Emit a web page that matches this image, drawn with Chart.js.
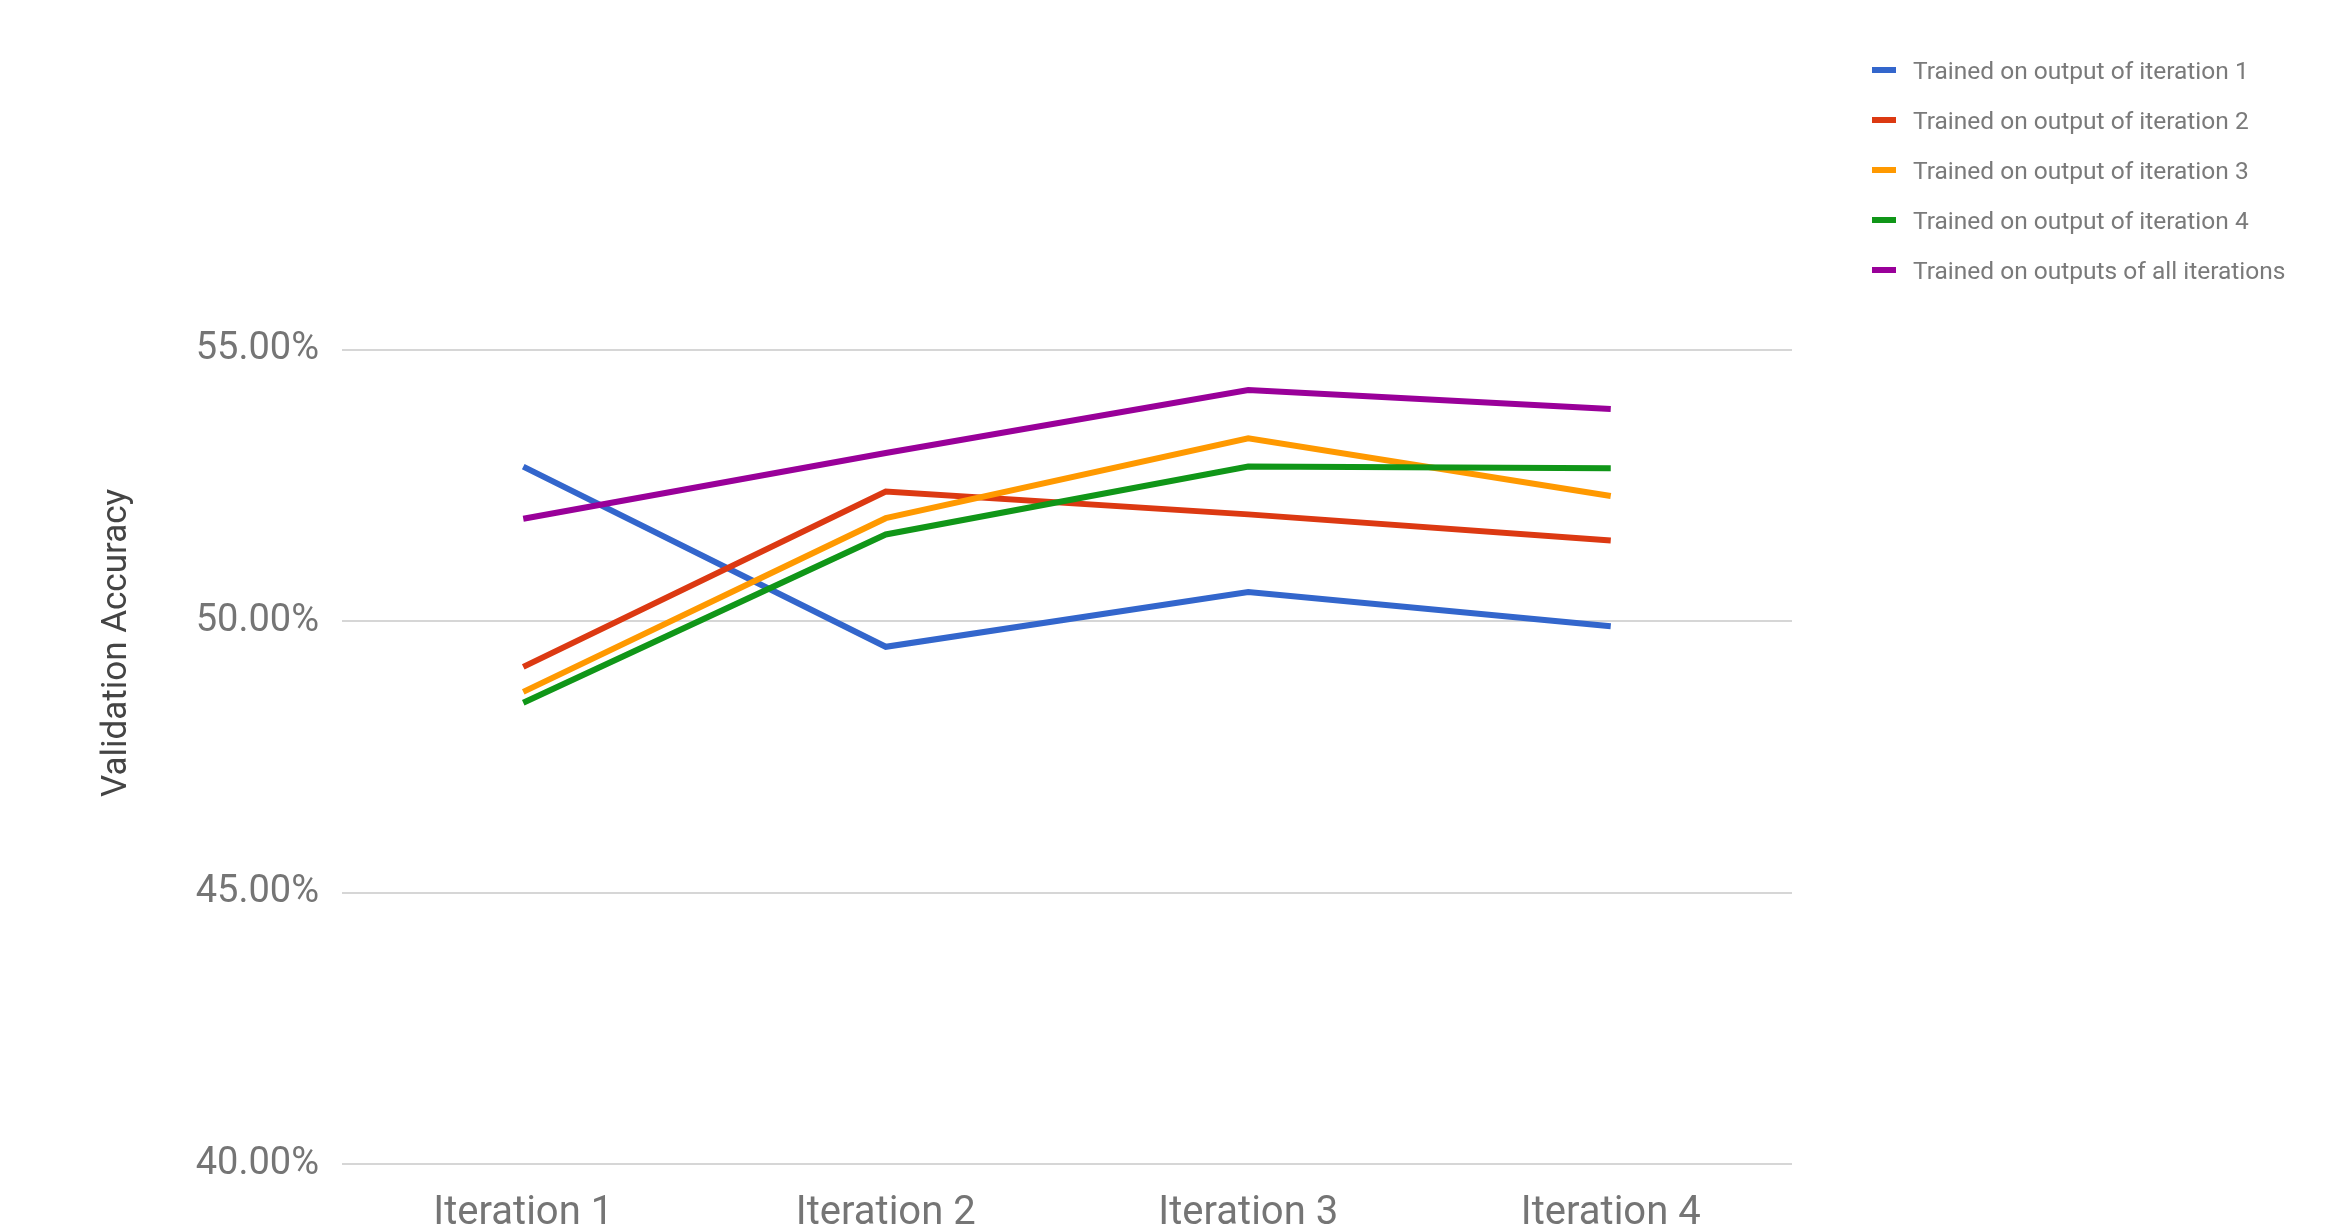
<!DOCTYPE html>
<html>
<head>
<meta charset="utf-8">
<script src="https://cdn.jsdelivr.net/npm/chart.js@4.4.1/dist/chart.umd.min.js"></script>
<style>
  html, body { margin: 0; padding: 0; background: #fff; overflow: hidden; }
  #wrap { position: relative; width: 2350px; height: 1226px; }
  #legend { position: absolute; left: 1872px; top: 45px; font-family: Roboto, sans-serif; font-size: 24.5px; color: #7a7a7a; }
  .legend-item { display: flex; align-items: center; height: 50px; white-space: nowrap; }
  .legend-swatch { display: inline-block; width: 24px; height: 6px; margin-right: 17px; }
</style>
</head>
<body>
<div id="wrap">
  <canvas id="accuracyChart" width="2350" height="1226"></canvas>
  <div id="legend"></div>
</div>
<script>
// === chart data ===
const categories = ['Iteration 1', 'Iteration 2', 'Iteration 3', 'Iteration 4'];
const yTicks = [40, 45, 50, 55];

const seriesLabels = [
  'Trained on output of iteration 1',
  'Trained on output of iteration 2',
  'Trained on output of iteration 3',
  'Trained on output of iteration 4',
  'Trained on outputs of all iterations'
];
const seriesColors = ['#3366cc', '#dc3912', '#ff9900', '#109618', '#990099'];

const iter1Acc = [52.85, 49.53, 50.54, 49.91];
const iter2Acc = [49.16, 52.39, 51.97, 51.49];
const iter3Acc = [48.7, 51.9, 53.37, 52.31];
const iter4Acc = [48.5, 51.6, 52.85, 52.82];
const allIterAcc = [51.89, 53.1, 54.26, 53.91];

const seriesValues = [iter1Acc, iter2Acc, iter3Acc, iter4Acc, allIterAcc];

const datasets = seriesLabels.map((label, i) => ({
  label: label,
  data: seriesValues[i],
  borderColor: seriesColors[i],
  backgroundColor: seriesColors[i],
  borderWidth: 6,
  pointRadius: 0,
  tension: 0,
  fill: false,
  order: seriesLabels.length - i
}));

const ctx = document.getElementById('accuracyChart');

new Chart(ctx, {
  type: 'line',
  data: { labels: categories, datasets: datasets },
  options: {
    responsive: false,
    animation: false,
    layout: {
      padding: { left: 96, right: 558, top: 122, bottom: 0 }
    },
    plugins: {
      legend: { display: false },
      tooltip: { enabled: false },
      title: { display: false }
    },
    scales: {
      x: {
        offset: true,
        grid: { display: false, drawTicks: false },
        border: { display: false },
        ticks: {
          color: '#757575',
          padding: 26,
          font: { family: 'Roboto', size: 40 },
          maxRotation: 0
        },
        afterFit: s => { s.height = 62; }
      },
      y: {
        min: 40,
        max: 59.2,
        grid: { color: '#d6d6d6', lineWidth: 2, drawTicks: false },
        border: { display: false },
        afterBuildTicks: s => {
          s.ticks = yTicks.map(v => ({ value: v }));
        },
        ticks: {
          color: '#757575',
          padding: 23,
          font: { family: 'Roboto', size: 38 },
          callback: v => v.toFixed(2) + '%'
        },
        title: {
          display: true,
          text: 'Validation Accuracy',
          color: '#444444',
          padding: { top: 0, bottom: 0 },
          font: { family: 'Roboto', size: 35 }
        },
        afterFit: s => { s.width = 246; }
      }
    }
  }
});

// html legend built from the same series arrays
const legendEl = document.getElementById('legend');
seriesLabels.forEach((label, i) => {
  const item = document.createElement('div');
  item.className = 'legend-item';
  item.innerHTML = `<span class="legend-swatch" style="background:${seriesColors[i]}"></span><span>${label}</span>`;
  legendEl.appendChild(item);
});
</script>
</body>
</html>
